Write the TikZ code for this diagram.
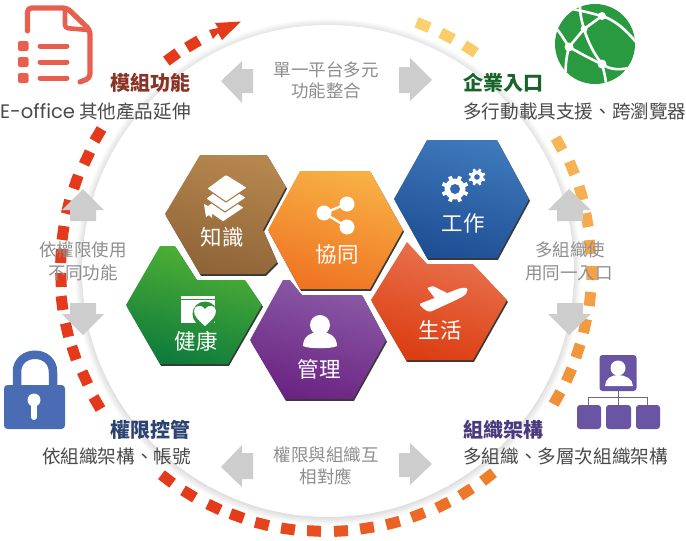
\documentclass[tikz,border=0pt]{standalone}
\usepackage{fontspec}
\newfontfamily\cjk{Noto Sans CJK TC}
\newfontfamily\latinf{Poppins}[Scale=1.05]
\definecolor{Yc}{HTML}{FBD26F}
\definecolor{Oc}{HTML}{EE7F2A}
\definecolor{Rc}{HTML}{E43A1B}
\definecolor{arrowgray}{HTML}{CDCDCD}
\definecolor{midgray}{HTML}{8E8E8E}
\definecolor{descgray}{HTML}{4A4A4A}
\definecolor{salmon}{HTML}{E7604F}
\definecolor{globegreen}{HTML}{2A9A40}
\definecolor{lockblue}{HTML}{4A6CB5}
\definecolor{orgpurple}{HTML}{6A55A5}
\definecolor{brownA}{HTML}{B5864E}\definecolor{brownB}{HTML}{8F6437}
\definecolor{greenA}{HTML}{52B334}\definecolor{greenB}{HTML}{0F7B3C}
\definecolor{blueA}{HTML}{3E79BC}\definecolor{blueB}{HTML}{1F4E93}
\definecolor{redA}{HTML}{E97552}\definecolor{redB}{HTML}{DC3D11}
\definecolor{purpA}{HTML}{8B5CA6}\definecolor{purpB}{HTML}{6B2382}
\definecolor{orA}{HTML}{F8B044}\definecolor{orB}{HTML}{EF7423}
\definecolor{headred}{HTML}{8A3324}
\definecolor{headgreen}{HTML}{17632A}
\definecolor{headblue}{HTML}{2D4373}
\definecolor{headpurple}{HTML}{4A3A7E}
\tikzset{
  head/.style={font=\cjk\bfseries\fontsize{20}{22}\selectfont,inner sep=0pt},
  desc/.style={font=\cjk\fontsize{18.6}{22}\selectfont,text=descgray,inner sep=0pt},
  mid/.style={font=\cjk\fontsize{17.5}{20}\selectfont,text=midgray,inner sep=0pt},
  hexlabel/.style={font=\cjk\fontsize{21.5}{24}\selectfont,text=white,inner sep=0pt},
  dashbox/.style={inner sep=0pt,minimum width=14pt,minimum height=11pt},
  grayarrow/.style={fill=arrowgray},
}
\newcommand{\hexa}[3]{%
  \fill[black!78,shift={(1,1.8)}] #1 -- cycle;
  \shade[left color=#2,right color=#3,shading angle=-15] #1 -- cycle;
}
\newcommand{\gearicon}[6]{%
  \fill[white] (#1,#2) circle (#3);
  \foreach \g in {0,45,...,315}
    \draw[white,line width=#6] (#1,#2) ++(\g+22.5:#3*0.8) -- ++(\g+22.5:#4-#3*0.8);
  \fill[blueA!60!blueB] (#1,#2) circle (#5);
}
\begin{document}
\begin{tikzpicture}[x=1pt,y=-1pt]
\useasboundingbox (0,0) rectangle (686,541);
\fill[white] (0,0) rectangle (686,541);
% ring
\foreach \k in {0,...,14}{
  \pgfmathsetmacro\sh{\k*1.25}
  \fill[black!\sh!white] (328,272) circle ({254-\k*0.8});
}
\fill[white] (328,271) circle (246);
% dashes
\foreach \px/\py [count=\n] in {423/25,447/36,470/49,559/144,572/168,581/193,587/220,590/247,592/273,590/299,585/326,578/351,569/375,557/398,488/477,466/492,443/505,418/515,393/523,367/528,341/531,314/531,288/529,262/524,237/516,214/507,189/494,167/479,97/403,85/378,74/353,67/330,62/303,61/280,61/256,63/233,68/207,76/182,87/158,98/135,172/57,193/44}{
  \pgfmathsetmacro\ang{atan2(269-\py,\px-326)}
  \pgfmathsetmacro\cw{mod(90-\ang+720,360)}
  \pgfmathtruncatemacro\tone{min(100,max(0,(\cw-20)/1.22))}
  \pgfmathtruncatemacro\ttwo{min(100,max(0,(\cw-142)/0.58))}
  \colorlet{stepA}{Oc!\tone!Yc}
  \colorlet{stepB}{Rc!\ttwo!stepA}
  \node[dashbox,fill=stepB,rotate=\ang+90] (dash\n) at (\px,\py) {};
}
\fill[Rc] (209,30) -- (218,28) -- (215,23) -- (241,21.5) -- (222,40) -- (218,33) -- (213,39) -- cycle;
% gray arrows
\fill[grayarrow] (221,81) -- (242,61) -- (242,69) -- (253,69) -- (253,93) -- (242,93) -- (242,103) -- cycle;
\fill[grayarrow] (432,80) -- (410,58) -- (410,67) -- (399,67) -- (399,93) -- (410,93) -- (410,101) -- cycle;
\fill[grayarrow] (221,467) -- (242,445) -- (242,453) -- (253,453) -- (253,479) -- (242,479) -- (242,487) -- cycle;
\fill[grayarrow] (432,464) -- (410,443) -- (410,453) -- (399,453) -- (399,477) -- (410,477) -- (410,485) -- cycle;
\fill[grayarrow] (83,189) -- (104,210) -- (96,210) -- (96,221) -- (70,221) -- (70,210) -- (62,210) -- cycle;
\fill[grayarrow] (83,335) -- (104,314) -- (96,314) -- (96,303) -- (70,303) -- (70,314) -- (62,314) -- cycle;
\fill[grayarrow] (569,189) -- (591,210) -- (583,210) -- (583,221) -- (557,221) -- (557,210) -- (548,210) -- cycle;
\fill[grayarrow] (569,335) -- (591,314) -- (583,314) -- (583,303) -- (557,303) -- (557,314) -- (548,314) -- cycle;
% hexagons
\hexa{(200,155) -- (267,155) -- (286,187) -- (263,230) -- (277,262) -- (265,274) -- (200,274) -- (165,214)}{brownA}{brownB}
\hexa{(160,246) -- (175,246) -- (197,280) -- (245,280) -- (262,305) -- (228,364) -- (160,364) -- (126,305)}{greenA}{greenB}
\hexa{(427,140) -- (497,140) -- (529,199) -- (497,258) -- (427,258) -- (394,199)}{blueA}{blueB}
\hexa{(407,242) -- (427,264) -- (473,264) -- (507,300) -- (473,360) -- (406,360) -- (371,300)}{redA}{redB}
\hexa{(283,280) -- (290,280) -- (302,295) -- (362,295) -- (386,340) -- (353,399) -- (285,399) -- (250,340)}{purpA}{purpB}
\hexa{(300,171) -- (370,171) -- (403,230) -- (370,289) -- (300,289) -- (268,230)}{orA}{orB}
% book icon
\foreach \dx/\dy in {-3/20,-1/10,0/0}{
  \fill[white,shift={(\dx,\dy)},rounded corners=1pt] (226,175) -- (247,188) -- (226,202) -- (207,189) -- cycle;
  \draw[brownA!60!brownB,line width=1.1pt,shift={(\dx,\dy)}] (207,189) -- (226,202) -- (247,188);
}
\fill[white] (204,204) -- (212,208) -- (212,218) -- (209,215) -- (206,217) -- cycle;
% share icon
\draw[white,line width=2.4pt] (347,204) -- (324,213) -- (347,227);
\fill[white] (347,204) circle (7.5) (324,213) circle (7.5) (347,227) circle (7.5);
% gears
\gearicon{455}{189}{10.5}{13.5}{5}{3.8pt}
\gearicon{477}{177}{6.5}{8.5}{2.8}{2.6pt}
% plane
\fill[white,rounded corners=1pt] (427,288) -- (433,286) -- (449,294) -- (437,301) -- cycle;
\fill[white,rounded corners=1.5pt] (419,304) -- (458,289) .. controls (464,287) and (468,288) .. (467,291) .. controls (466,295) and (462,297) .. (456,300) -- (430,312) -- (425,310) -- cycle;
% calendar with heart
\fill[white] (181,296) rectangle (215,323);
\draw[greenA!50!greenB,line width=0.9pt] (181,299.5) -- (215,299.5);
\fill[greenA!40!greenB] (205,314) circle (12.5);
\fill[white] (205,326) .. controls (198,320) and (194,316) .. (194,311) .. controls (194,305) and (202,304) .. (205,309) .. controls (208,304) and (216,305) .. (216,311) .. controls (216,316) and (212,320) .. (205,326) -- cycle;
% person
\fill[white] (320,325) circle (10);
\fill[white] (303,346) .. controls (303,337) and (310,332) .. (320,332) .. controls (330,332) and (337,337) .. (337,346) .. controls (332,349) and (308,349) .. (303,346) -- cycle;
% document icon
\draw[salmon,line width=5.2pt,line cap=round,line join=round,rounded corners=4pt] (27.5,31) -- (27.5,8) -- (67,8) -- (90,30) -- (90,78) -- (80,82);
\draw[salmon,line width=4.6pt,line cap=round,line join=round,rounded corners=3pt] (65,9) -- (65,28) -- (88,30);
\foreach \ly in {46,62,78}{
  \fill[salmon,rounded corners=2pt] (18,\ly-5) rectangle (28.5,\ly+5);
  \draw[salmon,line width=5pt,line cap=round] (40,\ly) -- (67,\ly);
}
% globe
\fill[globegreen] (595,44) circle (40);
\begin{scope}
\clip (595,44) circle (40);
\draw[white,line width=2.6pt] (565,8) .. controls (580,10) and (590,13) .. (602,16) .. controls (615,20) and (626,30) .. (636,42);
\draw[white,line width=2.6pt] (602,16) -- (584,29) -- (569,47) .. controls (563,38) and (560,32) .. (555,27);
\draw[white,line width=2.6pt] (580,6) .. controls (580,15) and (582,22) .. (584,29) .. controls (588,42) and (594,54) .. (602,64) .. controls (610,70) and (620,70) .. (628,68);
\draw[white,line width=2.6pt] (569,47) .. controls (580,53) and (592,60) .. (602,64) .. controls (604,72) and (606,78) .. (606,86);
\draw[white,line width=2.6pt] (569,47) .. controls (566,58) and (565,68) .. (566,80);
\end{scope}
\fill[white] (602,16) circle (4) (569,47) circle (4.5) (602,64) circle (4.5) (584,29) circle (3.5);
% lock
\draw[lockblue,line width=8.5pt] (17,387) -- (17,372) .. controls (17,349) and (53,349) .. (53,372) -- (53,387);
\fill[lockblue,rounded corners=3.5pt] (4,385) rectangle (65,429);
\fill[white] (34,400) circle (6.5);
\draw[white,line width=6pt,line cap=round] (34,400) -- (34,417);
% org icon
\draw[orgpurple!65!gray,line width=1pt] (588,405) -- (588,397) -- (647,397) -- (647,405) (618,391) -- (618,405);
\fill[orgpurple,rounded corners=3pt] (599.5,355) rectangle (636.5,391);
\fill[white] (618,368) circle (7.5);
\fill[white] (605,386) .. controls (605,379) and (611,375) .. (618,375) .. controls (625,375) and (633,379) .. (633,386) -- cycle;
\fill[orgpurple,rounded corners=3pt] (577,405) rectangle (601,429);
\fill[orgpurple,rounded corners=3pt] (606,405) rectangle (631,429);
\fill[orgpurple,rounded corners=3pt] (636,405) rectangle (660,429);
% hexagon labels
\node[hexlabel] (lblA) at (222,237) {知識};
\node[hexlabel] (lblB) at (337,254) {協同};
\node[hexlabel] (lblC) at (463,223) {工作};
\node[hexlabel] (lblD) at (440,330) {生活};
\node[hexlabel] (lblE) at (196,341) {健康};
\node[hexlabel] (lblF) at (319,369) {管理};
% corner texts
\node[head,text=headred,anchor=east] (hA) at (191,83) {模組功能};
\node[desc,anchor=east] (dA) at (191,111) {{\latinf E-office} 其他產品延伸};
\node[head,text=headgreen,anchor=west] (hB) at (463,83) {企業入口};
\node[desc,anchor=west] (dB) at (463,111) {多行動載具支援、跨瀏覽器};
\node[head,text=headblue,anchor=east] (hC) at (191,430) {權限控管};
\node[desc,anchor=east] (dC) at (191,456) {依組織架構、帳號};
\node[head,text=headpurple,anchor=west] (hD) at (463,430) {組織架構};
\node[desc,anchor=west] (dD) at (463,456) {多組織、多層次組織架構};
% middle gray texts
\node[mid] (mA) at (326,70) {單一平台多元};
\node[mid] (mB) at (326,91) {功能整合};
\node[mid] (mC) at (326,455) {權限與組織互};
\node[mid] (mD) at (326,477) {相對應};
\node[mid] (mE) at (83,250) {依權限使用};
\node[mid] (mF) at (83,273) {不同功能};
\node[mid] (mG) at (570,250) {多組織使};
\node[mid] (mH) at (569,273) {用同一入口};
\end{tikzpicture}
\end{document}
